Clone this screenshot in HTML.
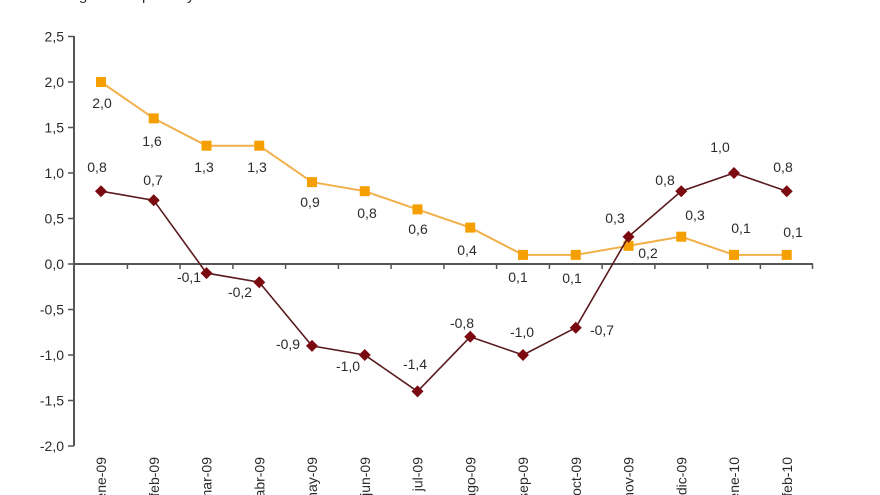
<!DOCTYPE html>
<html>
<head>
<meta charset="utf-8">
<style>
html,body{margin:0;padding:0;background:#fff;}
svg{display:block;}
text{font-family:"Liberation Sans",Arial,sans-serif;fill:#2b2b2b;}
</style>
</head>
<body>
<svg width="880" height="495" viewBox="0 0 880 495" xmlns="http://www.w3.org/2000/svg">
  <rect x="0" y="0" width="880" height="495" fill="#fff"/>
  <g font-size="15" fill="#444">
    <text x="79" y="0">g</text>
    <text x="142" y="0">p</text>
    <text x="187" y="0">y</text>
  </g>

  <line x1="74" y1="36" x2="74" y2="446" stroke="#555" stroke-width="2"/>
  <g stroke="#555" stroke-width="1.5">
    <line x1="68" y1="36.5" x2="74" y2="36.5"/>
    <line x1="68" y1="82" x2="74" y2="82"/>
    <line x1="68" y1="127.5" x2="74" y2="127.5"/>
    <line x1="68" y1="173" x2="74" y2="173"/>
    <line x1="68" y1="218.5" x2="74" y2="218.5"/>
    <line x1="68" y1="264" x2="74" y2="264"/>
    <line x1="68" y1="309.5" x2="74" y2="309.5"/>
    <line x1="68" y1="355" x2="74" y2="355"/>
    <line x1="68" y1="400.5" x2="74" y2="400.5"/>
    <line x1="68" y1="446" x2="74" y2="446"/>
  </g>
  <g font-size="14" text-anchor="end">
    <text x="64" y="41.5">2,5</text>
    <text x="64" y="87">2,0</text>
    <text x="64" y="132.5">1,5</text>
    <text x="64" y="178">1,0</text>
    <text x="64" y="223.5">0,5</text>
    <text x="64" y="269">0,0</text>
    <text x="64" y="314.5">-0,5</text>
    <text x="64" y="360">-1,0</text>
    <text x="64" y="405.5">-1,5</text>
    <text x="64" y="451">-2,0</text>
  </g>

  <line x1="74" y1="264" x2="813" y2="264" stroke="#555" stroke-width="2"/>
  <g stroke="#555" stroke-width="1.5">
    <line x1="127.4" y1="264" x2="127.4" y2="269"/>
    <line x1="180.1" y1="264" x2="180.1" y2="269"/>
    <line x1="232.9" y1="264" x2="232.9" y2="269"/>
    <line x1="285.6" y1="264" x2="285.6" y2="269"/>
    <line x1="338.4" y1="264" x2="338.4" y2="269"/>
    <line x1="391.1" y1="264" x2="391.1" y2="269"/>
    <line x1="443.9" y1="264" x2="443.9" y2="269"/>
    <line x1="496.6" y1="264" x2="496.6" y2="269"/>
    <line x1="549.4" y1="264" x2="549.4" y2="269"/>
    <line x1="602.1" y1="264" x2="602.1" y2="269"/>
    <line x1="654.9" y1="264" x2="654.9" y2="269"/>
    <line x1="707.6" y1="264" x2="707.6" y2="269"/>
    <line x1="760.4" y1="264" x2="760.4" y2="269"/>
    <line x1="812.5" y1="264" x2="812.5" y2="269"/>
  </g>

  <g font-size="14" text-anchor="end">
    <text transform="translate(106,457) rotate(-90)">ene-09</text>
    <text transform="translate(158.75,457) rotate(-90)">feb-09</text>
    <text transform="translate(211.5,457) rotate(-90)">mar-09</text>
    <text transform="translate(264.25,457) rotate(-90)">abr-09</text>
    <text transform="translate(317,457) rotate(-90)">may-09</text>
    <text transform="translate(369.75,457) rotate(-90)">jun-09</text>
    <text transform="translate(422.5,457) rotate(-90)">jul-09</text>
    <text transform="translate(475.25,457) rotate(-90)">ago-09</text>
    <text transform="translate(528,457) rotate(-90)">sep-09</text>
    <text transform="translate(580.75,457) rotate(-90)">oct-09</text>
    <text transform="translate(633.5,457) rotate(-90)">nov-09</text>
    <text transform="translate(686.25,457) rotate(-90)">dic-09</text>
    <text transform="translate(739,457) rotate(-90)">ene-10</text>
    <text transform="translate(791.75,457) rotate(-90)">feb-10</text>
  </g>

  <polyline fill="none" stroke="#F2B04A" stroke-width="2"
    points="101,82 153.75,118.4 206.5,145.7 259.25,145.7 312,182.1 364.75,191.2 417.5,209.4 470.25,227.6 523,254.9 575.75,254.9 628.5,245.8 681.25,236.7 734,254.9 786.75,254.9"/>
  <g fill="#F5A000">
    <rect x="96" y="77" width="10" height="10"/>
    <rect x="148.75" y="113.4" width="10" height="10"/>
    <rect x="201.5" y="140.7" width="10" height="10"/>
    <rect x="254.25" y="140.7" width="10" height="10"/>
    <rect x="307" y="177.1" width="10" height="10"/>
    <rect x="359.75" y="186.2" width="10" height="10"/>
    <rect x="412.5" y="204.4" width="10" height="10"/>
    <rect x="465.25" y="222.6" width="10" height="10"/>
    <rect x="518" y="249.9" width="10" height="10"/>
    <rect x="570.75" y="249.9" width="10" height="10"/>
    <rect x="623.5" y="240.8" width="10" height="10"/>
    <rect x="676.25" y="231.7" width="10" height="10"/>
    <rect x="729" y="249.9" width="10" height="10"/>
    <rect x="781.75" y="249.9" width="10" height="10"/>
  </g>

  <polyline fill="none" stroke="#5A1A1E" stroke-width="1.6"
    points="101,191.2 153.75,200.3 206.5,273.1 259.25,282.2 312,345.9 364.75,355 417.5,391.4 470.25,336.8 523,355 575.75,327.7 628.5,236.7 681.25,191.2 734,173 786.75,191.2"/>
  <g fill="#7A0A10">
    <polygon points="101,185.2 107,191.2 101,197.2 95,191.2"/>
    <polygon points="153.75,194.3 159.75,200.3 153.75,206.3 147.75,200.3"/>
    <polygon points="206.5,267.1 212.5,273.1 206.5,279.1 200.5,273.1"/>
    <polygon points="259.25,276.2 265.25,282.2 259.25,288.2 253.25,282.2"/>
    <polygon points="312,339.9 318,345.9 312,351.9 306,345.9"/>
    <polygon points="364.75,349 370.75,355 364.75,361 358.75,355"/>
    <polygon points="417.5,385.4 423.5,391.4 417.5,397.4 411.5,391.4"/>
    <polygon points="470.25,330.8 476.25,336.8 470.25,342.8 464.25,336.8"/>
    <polygon points="523,349 529,355 523,361 517,355"/>
    <polygon points="575.75,321.7 581.75,327.7 575.75,333.7 569.75,327.7"/>
    <polygon points="628.5,230.7 634.5,236.7 628.5,242.7 622.5,236.7"/>
    <polygon points="681.25,185.2 687.25,191.2 681.25,197.2 675.25,191.2"/>
    <polygon points="734,167 740,173 734,179 728,173"/>
    <polygon points="786.75,185.2 792.75,191.2 786.75,197.2 780.75,191.2"/>
  </g>

  <g font-size="14" text-anchor="middle">
    <text x="102" y="108">2,0</text>
    <text x="152" y="146">1,6</text>
    <text x="204" y="172">1,3</text>
    <text x="257" y="172">1,3</text>
    <text x="310" y="207">0,9</text>
    <text x="367" y="218">0,8</text>
    <text x="418" y="234">0,6</text>
    <text x="467" y="255">0,4</text>
    <text x="518" y="282">0,1</text>
    <text x="572" y="283">0,1</text>
    <text x="648" y="258">0,2</text>
    <text x="695" y="220">0,3</text>
    <text x="741" y="233">0,1</text>
    <text x="793" y="237">0,1</text>
  </g>

  <g font-size="14" text-anchor="middle">
    <text x="97" y="172">0,8</text>
    <text x="153" y="185">0,7</text>
    <text x="189" y="282">-0,1</text>
    <text x="240" y="297">-0,2</text>
    <text x="288" y="349">-0,9</text>
    <text x="348" y="371">-1,0</text>
    <text x="415" y="369">-1,4</text>
    <text x="462" y="328">-0,8</text>
    <text x="522" y="337">-1,0</text>
    <text x="602" y="335">-0,7</text>
    <text x="615" y="223">0,3</text>
    <text x="665" y="185">0,8</text>
    <text x="720" y="152">1,0</text>
    <text x="783" y="172">0,8</text>
  </g>
</svg>
</body>
</html>
